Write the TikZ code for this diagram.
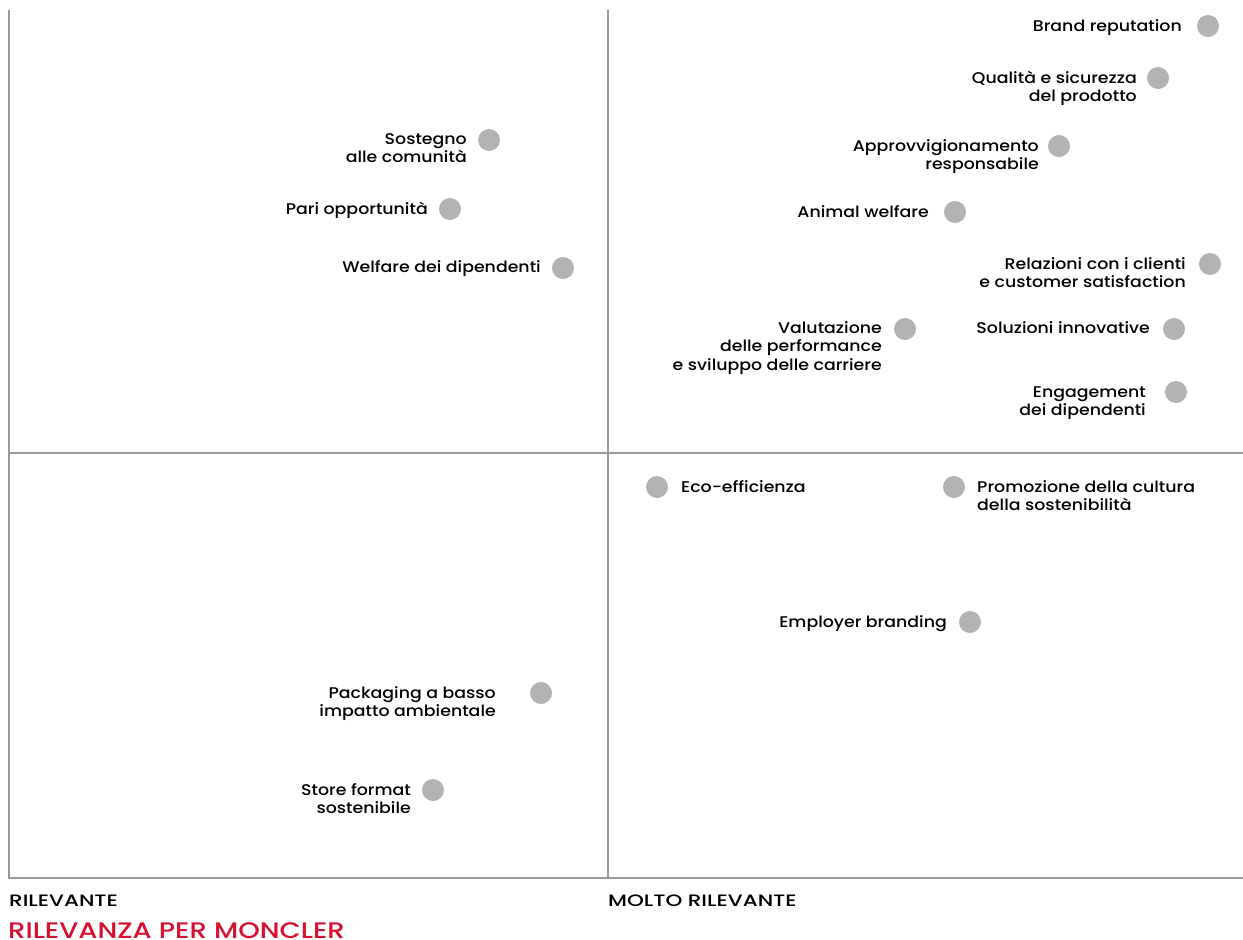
\documentclass[tikz,border=0pt]{standalone}
\usepackage{fontspec}
\setmainfont{Poppins Medium}
\newfontfamily\lblfont{Poppins Medium}[FakeStretch=1.12]
\newfontfamily\axfont{Poppins Medium}[FakeStretch=1.3]
\newfontfamily\ttlfont{Poppins Medium}[FakeStretch=1.22]
\definecolor{dotgray}{HTML}{B3B3B3}
\definecolor{linegray}{HTML}{9A9A9A}
\definecolor{mred}{HTML}{D7102F}
\begin{document}
\begin{tikzpicture}[x=1pt,y=-1pt,
  dot/.style={circle,fill=dotgray,minimum size=22pt,inner sep=0pt},
  lblR/.style={anchor=base east,align=right,inner sep=0pt,font=\lblfont\fontsize{15.5}{18.5}\selectfont},
  lblL/.style={anchor=base west,align=left,inner sep=0pt,font=\lblfont\fontsize{15.5}{18.5}\selectfont},
  axis/.style={draw=linegray,line width=1.2pt},
  axlbl/.style={anchor=base west,inner sep=0pt,font=\axfont\fontsize{16.5}{18}\selectfont},
  title/.style={anchor=base west,inner sep=0pt,text=mred,font=\ttlfont\fontsize{22.5}{24}\selectfont}]
\useasboundingbox (0,0) rectangle (1243,940);
% frame
\coordinate (tl) at (9,10);
\coordinate (bl) at (9,878);
\coordinate (tm) at (608,10);
\coordinate (bm) at (608,878);
\coordinate (ml) at (9,453);
\coordinate (mr) at (1243,453);
\coordinate (br) at (1243,878);
\draw[axis] (tl) -- (bl) -- (br);
\draw[axis] (tm) -- (bm);
\draw[axis] (ml) -- (mr);
% dots and labels (base anchor = baseline of the last line)
\node[dot] (d1) at (1208,26) {};
\node[lblR] (t1) at (1182,31) {Brand reputation};
\node[dot] (d2) at (1158,78) {};
\node[lblR] (t2) at (1137,101.5) {Qualità e sicurezza\\del prodotto};
\node[dot] (d3) at (1059,146) {};
\node[lblR] (t3) at (1039,169.5) {Approvvigionamento\\responsabile};
\node[dot] (d4) at (955,212) {};
\node[lblR] (t4) at (929,217) {Animal welfare};
\node[dot] (d5) at (1210,264) {};
\node[lblR] (t5) at (1186,287.5) {Relazioni con i clienti\\e customer satisfaction};
\node[dot] (d6) at (1174,329) {};
\node[lblR] (t6) at (1150,333) {Soluzioni innovative};
\node[dot] (d7) at (905,329) {};
\node[lblR] (t7) at (882,370) {Valutazione\\delle performance\\e sviluppo delle carriere};
\node[dot] (d8) at (1176,392) {};
\node[lblR] (t8) at (1146,415.5) {Engagement\\dei dipendenti};
\node[dot] (d9) at (489,140) {};
\node[lblR] (t9) at (467,162.5) {Sostegno\\alle comunità};
\node[dot] (d10) at (450,209) {};
\node[lblR] (t10) at (428,214) {Pari opportunità};
\node[dot] (d11) at (563,268) {};
\node[lblR] (t11) at (541,272) {Welfare dei dipendenti};
\node[dot] (d12) at (657,487) {};
\node[lblL] (t12) at (681,492) {Eco-efficienza};
\node[dot] (d13) at (954,487) {};
\node[lblL] (t13) at (977,510.5) {Promozione della cultura\\della sostenibilità};
\node[dot] (d14) at (970,622) {};
\node[lblR] (t14) at (947,627) {Employer branding};
\node[dot] (d15) at (541,693) {};
\node[lblR] (t15) at (496,716.5) {Packaging a basso\\impatto ambientale};
\node[dot] (d16) at (433,790) {};
\node[lblR] (t16) at (411,813.5) {Store format\\sostenibile};
% axis labels
\node[axlbl] (a1) at (9,906.5) {RILEVANTE};
\node[axlbl] (a2) at (608,906.5) {MOLTO RILEVANTE};
\node[title] (a3) at (8,938) {RILEVANZA PER MONCLER};
\end{tikzpicture}
\end{document}
